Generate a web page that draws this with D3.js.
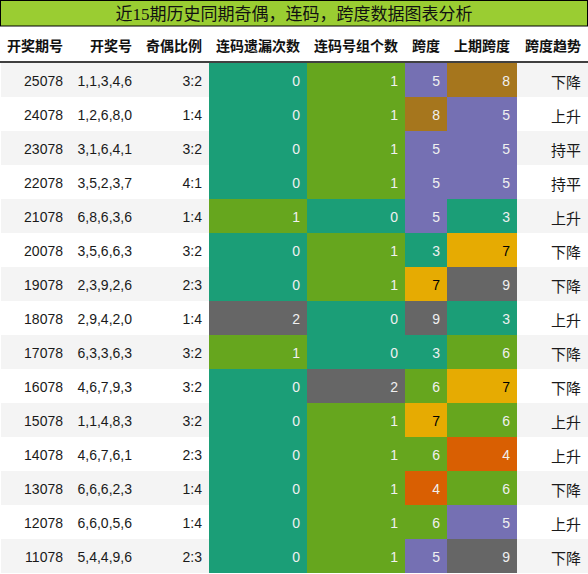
<!DOCTYPE html>
<html>
<head>
<meta charset="utf-8">
<script src="https://cdn.jsdelivr.net/npm/d3@7"></script>
<style>
  html, body { margin: 0; padding: 0; background: #fff; }
</style>
</head>
<body>
<div id="chart"></div>
<script>
// ── Datos ──────────────────────────────────────────────────────────────
const titulo = "近15期历史同期奇偶，连码，跨度数据图表分析";
const columnas = ["开奖期号", "开奖号", "奇偶比例", "连码遗漏次数", "连码号组个数", "跨度", "上期跨度", "跨度趋势"];

const periodos = ["25078", "24078", "23078", "22078", "21078", "20078", "19078", "18078",
  "17078", "16078", "15078", "14078", "13078", "12078", "11078"];
const numeros = ["1,1,3,4,6", "1,2,6,8,0", "3,1,6,4,1", "3,5,2,3,7", "6,8,6,3,6", "3,5,6,6,3",
  "2,3,9,2,6", "2,9,4,2,0", "6,3,3,6,3", "4,6,7,9,3", "1,1,4,8,3", "4,6,7,6,1",
  "6,6,6,2,3", "6,6,0,5,6", "5,4,4,9,6"];
const paridad = ["3:2", "1:4", "3:2", "4:1", "1:4", "3:2", "2:3", "1:4", "3:2", "3:2", "3:2",
  "2:3", "1:4", "1:4", "2:3"];
const omision = [0, 0, 0, 0, 1, 0, 0, 2, 1, 0, 0, 0, 0, 0, 0];
const grupos = [1, 1, 1, 1, 0, 1, 1, 0, 0, 2, 1, 1, 1, 1, 1];
const span = [5, 8, 5, 5, 5, 3, 7, 9, 3, 6, 7, 6, 4, 6, 5];
const spanPrev = [8, 5, 5, 5, 3, 7, 9, 3, 6, 7, 6, 4, 6, 5, 9];
const tendencia = ["下降", "上升", "持平", "持平", "上升", "下降", "下降", "上升", "下降", "下降",
  "上升", "上升", "下降", "上升", "下降"];

// ── Tamaños ────────────────────────────────────────────────────────────
const width = 588, height = 574;
const anchos = [70, 69, 70, 98, 98, 42, 70, 71];
const bordes = [0];
anchos.forEach(w => bordes.push(bordes[bordes.length - 1] + w));
const titleH = 27, headerTop = 27, headerBottom = 62, bodyTop = 63;

const filas = periodos.map((p, i) => [p, numeros[i], paridad[i], omision[i], grupos[i], span[i], spanPrev[i], tendencia[i]]);

// color por valor (paleta Dark2)
const color = d3.scaleOrdinal()
  .domain(d3.range(10))
  .range(["#1b9e77", "#66a61e", "#666666", "#1b9e77", "#d95f02",
          "#7570b3", "#66a61e", "#e6ab02", "#a6761d", "#666666"]);

const y = d3.scaleBand()
  .domain(d3.range(filas.length))
  .range([bodyTop, bodyTop + filas.length * 34]);

const svg = d3.create("svg")
  .attr("width", width)
  .attr("height", height)
  .attr("viewBox", [0, 0, width, height])
  .style("display", "block");

// ── Título ─────────────────────────────────────────────────────────────
svg.append("rect")
  .attr("x", 0.5).attr("y", 0.5)
  .attr("width", width - 1).attr("height", titleH - 1.5)
  .attr("fill", "#9acd32")
  .attr("stroke", "#000");

svg.append("text")
  .attr("x", width / 2).attr("y", titleH / 2 + 1)
  .attr("text-anchor", "middle")
  .attr("dominant-baseline", "central")
  .style("font-family", "'Liberation Serif','Noto Sans CJK SC',serif")
  .style("font-size", "17px")
  .attr("fill", "#111")
  .text(titulo);

// ── Cabecera ───────────────────────────────────────────────────────────
svg.append("g")
  .selectAll("text")
  .data(columnas)
  .join("text")
  .attr("x", (d, i) => bordes[i + 1] - 7)
  .attr("y", (headerTop + headerBottom) / 2)
  .attr("text-anchor", "end")
  .attr("dominant-baseline", "central")
  .style("font-family", "'Noto Sans CJK SC',sans-serif")
  .style("font-weight", "bold")
  .style("font-size", "14px")
  .attr("fill", "#111")
  .text(d => d);

svg.append("line")
  .attr("x1", 0).attr("x2", width)
  .attr("y1", headerBottom).attr("y2", headerBottom)
  .attr("stroke", "#000")
  .attr("stroke-width", 1.5);

// ── Filas ──────────────────────────────────────────────────────────────
const row = svg.append("g")
  .selectAll("g")
  .data(filas)
  .join("g")
  .attr("transform", (d, i) => `translate(0,${y(i)})`);

row.append("rect")
  .attr("x", 1).attr("width", width - 1)
  .attr("height", y.bandwidth())
  .attr("fill", (d, i) => i % 2 === 0 ? "#f4f4f4" : "#ffffff");

const celda = row.selectAll("g")
  .data(d => d.map((v, j) => ({ v, j })))
  .join("g");

celda.filter(c => c.j >= 3 && c.j <= 6)
  .append("rect")
  .attr("x", c => bordes[c.j])
  .attr("width", c => anchos[c.j])
  .attr("height", y.bandwidth())
  .attr("fill", c => color(c.v));

celda.append("text")
  .attr("x", c => bordes[c.j + 1] - 7)
  .attr("y", y.bandwidth() / 2 + 1)
  .attr("text-anchor", "end")
  .attr("dominant-baseline", "central")
  .style("font-family", c => c.j === 7 ? "'Noto Sans CJK SC',sans-serif" : "'Liberation Sans',Arial,sans-serif")
  .style("font-size", c => c.j === 7 ? "15px" : "14px")
  .attr("fill", c => {
    if (c.j < 3 || c.j === 7) return "#1a1a1a";
    return c.v === 7 ? "#000" : "#f0f0f0";
  })
  .text(c => c.v);

document.getElementById("chart").append(svg.node());
</script>
</body>
</html>
